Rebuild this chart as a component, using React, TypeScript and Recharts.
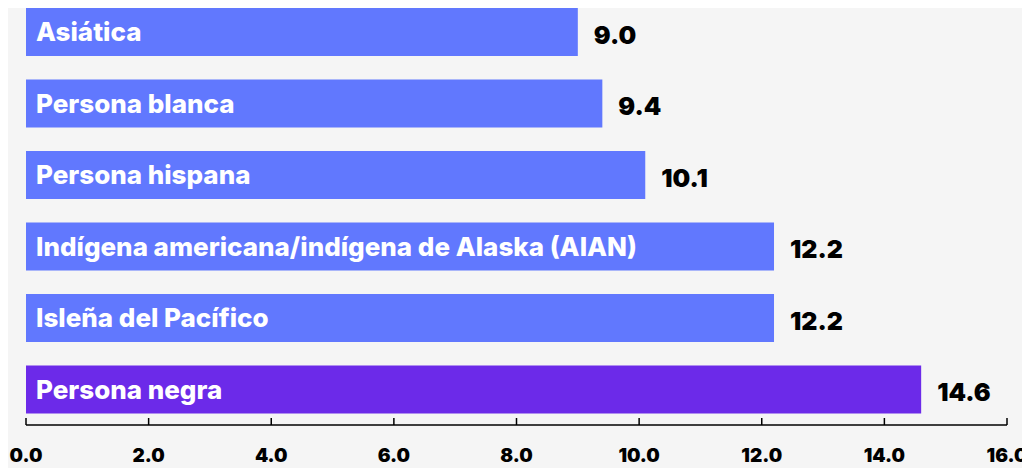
import React from 'react'
import {BarChart, Bar, XAxis, YAxis, LabelList, Cell} from 'recharts'

const groups = [
  'Asiática',
  'Persona blanca',
  'Persona hispana',
  'Indígena americana/indígena de Alaska (AIAN)',
  'Isleña del Pacífico',
  'Persona negra',
]
const values = [9.0, 9.4, 10.1, 12.2, 12.2, 14.6]
const axisTicks = [0, 2, 4, 6, 8, 10, 12, 14, 16]

const data = groups.map((name, i) => ({name, value: values[i]}))

const BLUE = '#6178fe'
const PURPLE = '#6c2ae9'

const AxisTick = (props: any) => {
  const {x, y, payload} = props
  return (
    <g>
      <line x1={x} x2={x} y1={y - 7} y2={y} stroke='#000' strokeWidth={1.5} />
      <text
        x={x}
        y={y + 37}
        textAnchor='middle'
        fill='#000'
        fontFamily='Inter'
        fontWeight={900}
        fontSize={19}
      >
        {Number(payload.value).toFixed(1)}
      </text>
    </g>
  )
}

function App() {
  return (
    <div style={{margin: '-12px 0 0 -8px', width: 1030, height: 472, background: '#f5f5f5'}}>
      <BarChart
        width={1030}
        height={472}
        layout='vertical'
        data={data}
        margin={{top: 0, right: 23, bottom: 0, left: 26}}
      >
        <XAxis
          type='number'
          domain={[0, 16]}
          ticks={axisTicks}
          interval={0}
          height={43}
          tickSize={0}
          tickMargin={0}
          tick={<AxisTick />}
          axisLine={{stroke: '#000', strokeWidth: 1.5}}
          tickLine={false}
        />
        <YAxis type='category' dataKey='name' hide />
        <Bar dataKey='value' barSize={48} isAnimationActive={false}>
          {data.map((d, i) => (
            <Cell key={d.name} fill={i === data.length - 1 ? PURPLE : BLUE} />
          ))}
          <LabelList
            dataKey='name'
            position='insideLeft'
            offset={10}
            fill='#fff'
            fontFamily='Inter'
            fontWeight={800}
            fontSize={26}
          />
          <LabelList
            dataKey='value'
            position='right'
            offset={16}
            formatter={(v: any) => Number(v).toFixed(1)}
            fill='#000'
            fontFamily='Inter'
            fontWeight={900}
            fontSize={25}
            dy={3}
          />
        </Bar>
      </BarChart>
    </div>
  )
}

export default App
